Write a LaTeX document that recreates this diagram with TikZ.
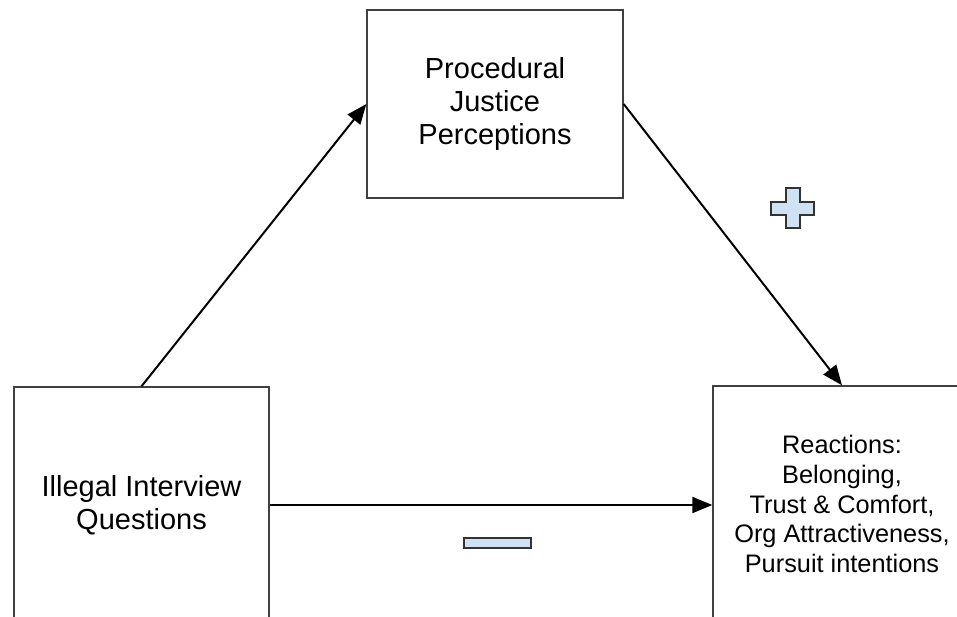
\documentclass[tikz,border=0pt]{standalone}
\usepackage{fontspec}
\setmainfont{Liberation Sans}
\usetikzlibrary{arrows.meta}
\definecolor{signblue}{HTML}{CFE2F3}
\begin{document}
\begin{tikzpicture}[x=0.75pt,y=-0.75pt,
    box/.style={draw=black!75,line width=1pt,align=center,inner sep=0pt},
    bigtext/.style={font=\fontsize{21.75}{25}\selectfont},
    smalltext/.style={font=\fontsize{19}{22.2}\selectfont},
    link/.style={-{Triangle[length=15pt,width=12pt]},line width=1.5pt},
    sign/.style={fill=signblue,draw=black!80,line width=1.2pt,line join=miter}]
  \useasboundingbox (0,0) rectangle (957,617);
  \clip (0,0) rectangle (957,617);

  % the three boxes
  \node[box,bigtext,minimum width=192pt,minimum height=141pt] (justice) at (495,104)
    {Procedural\\Justice\\Perceptions};
  \node[box,bigtext,minimum width=191.25pt,minimum height=177pt] (illegal) at (141.5,505)
    {Illegal Interview\\Questions};
  \node[box,smalltext,minimum width=193.5pt,minimum height=177pt] (reactions) at (842,504)
    {Reactions:\\Belonging,\\Trust \& Comfort,\\Org Attractiveness,\\Pursuit intentions};

  % paths
  \draw[link] (illegal.north) -- (justice.west);
  \draw[link] (justice.east) -- (reactions.north);
  \draw[link] (illegal.east) -- (illegal.east -| reactions.west);

  % signs
  \draw[sign] (786,188) -- (800,188) -- (800,202) -- (814,202) -- (814,215) -- (800,215)
    -- (800,228) -- (786,228) -- (786,215) -- (771,215) -- (771,202) -- (786,202) -- cycle;
  \draw[sign] (464,538) rectangle (531,548);
\end{tikzpicture}
\end{document}
